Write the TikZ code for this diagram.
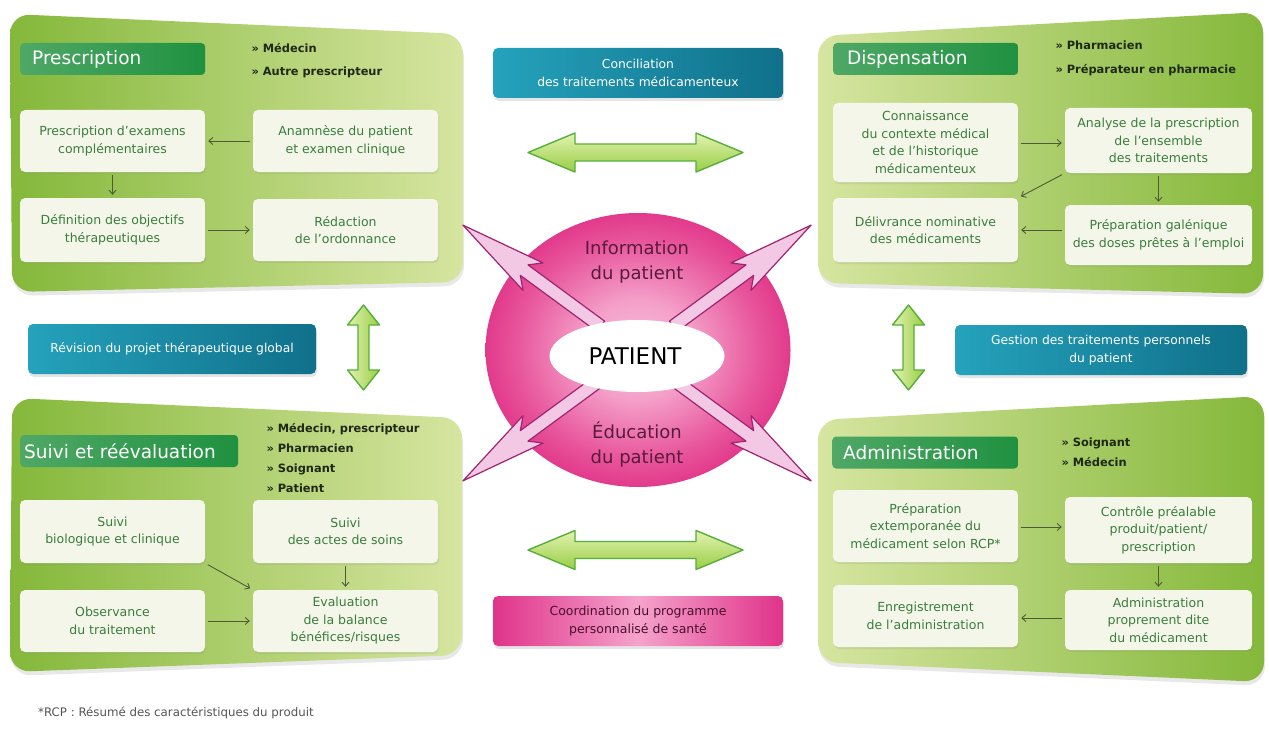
\documentclass[tikz,border=0pt]{standalone}
\usepackage{fontspec}
\setmainfont{DejaVu Sans}
\usetikzlibrary{arrows.meta,shadows,shapes.geometric}
\definecolor{pdark}{HTML}{84B83A}
\definecolor{plight}{HTML}{D6E5A0}
\definecolor{hdark}{HTML}{1F9140}
\definecolor{hlight}{HTML}{4FA866}
\definecolor{boxfill}{HTML}{F4F6E9}
\definecolor{boxtext}{HTML}{3A7D3C}
\definecolor{flowc}{HTML}{4E5B36}
\definecolor{rolec}{HTML}{1E2814}
\definecolor{teall}{HTML}{25A2BC}
\definecolor{teald}{HTML}{10708A}
\definecolor{pkin}{HTML}{F8BCDA}
\definecolor{pklite}{HTML}{F4A0C9}
\definecolor{pkmid}{HTML}{E8559C}
\definecolor{pkout}{HTML}{DC1F7A}
\definecolor{pkarrfill}{HTML}{F3C8E4}
\definecolor{pkarrline}{HTML}{9E2470}
\definecolor{pktext}{HTML}{5A1A3C}
\definecolor{gaout}{HTML}{55AF3A}
\definecolor{gatop}{HTML}{E3F2B2}
\definecolor{gabot}{HTML}{98CE44}
\definecolor{coordin}{HTML}{F5A3CB}
\definecolor{coordout}{HTML}{E0338A}
\definecolor{coordtext}{HTML}{4A0F2E}
\definecolor{notec}{HTML}{555555}
\pgfdeclareradialshading{pinkball}{\pgfpoint{0bp}{0bp}}{color(0bp)=(pkin); color(9bp)=(pklite); color(20bp)=(pkmid); color(30bp)=(pkout); color(50bp)=(pkout)}
\newcommand{\pinkarrow}[1]{\path[pinkarr, shift={(637,353)}, rotate=#1] (45,-6.5) -- (140,-6.5) -- (129,-17) -- (216,0) -- (129,17) -- (140,6.5) -- (45,6.5) -- cycle;}
\tikzset{
  panelL/.style={rounded corners=20pt, left color=pdark, right color=plight,
    drop shadow={opacity=0.18, shadow xshift=1pt, shadow yshift=-4pt}},
  panelR/.style={rounded corners=20pt, left color=plight, right color=pdark,
    drop shadow={opacity=0.18, shadow xshift=1pt, shadow yshift=-4pt}},
  hdr/.style={rounded corners=4pt, left color=hlight, right color=hdark, text=white,
    font=\fontsize{18.5}{20}\selectfont, anchor=west, minimum height=32pt, align=left,
    inner ysep=0pt},
  box/.style={rounded corners=5pt, fill=boxfill, text=boxtext,
    font=\fontsize{12.5}{17.5}\selectfont, align=center, minimum width=185pt,
    inner xsep=2pt, inner ysep=0pt,
    drop shadow={opacity=0.15, shadow xshift=1pt, shadow yshift=-2pt}},
  flow/.style={draw=flowc, line width=0.9pt, -{Straight Barb[length=4pt,width=7pt]},
    shorten >=3pt, shorten <=3pt},
  role/.style={font=\bfseries\fontsize{11.4}{#1}\selectfont, text=rolec, align=left, anchor=west},
  tealbox/.style={rounded corners=5pt, left color=teall, right color=teald, text=white,
    font=\fontsize{12.3}{18}\selectfont, align=center, inner sep=0pt,
    drop shadow={opacity=0.2, shadow xshift=1pt, shadow yshift=-3pt}},
  coordbox/.style={rounded corners=5pt, left color=coordout, right color=coordout, middle color=coordin,
    text=coordtext, font=\fontsize{12.5}{18}\selectfont, align=center, inner sep=0pt,
    drop shadow={opacity=0.2, shadow xshift=1pt, shadow yshift=-3pt}},
  garrow/.style={draw=gaout, line width=1.4pt, line join=round, top color=gatop, bottom color=gabot},
  gvarrow/.style={draw=gaout, line width=1.4pt, line join=round, left color=gatop, right color=gabot},
  pinkarr/.style={draw=pkarrline, line width=1.2pt, fill=pkarrfill, line join=round},
  balltext/.style={text=pktext, font=\fontsize{18}{25}\selectfont, align=center}
}
\begin{document}
\begin{tikzpicture}[x=1pt,y=-1pt]
\fill[white] (0,0) rectangle (1269,733);
\useasboundingbox (0,0) rectangle (1269,733);

% ---------- panels ----------
\path[panelL] (10,14) -- (463,34) -- (463,282) -- (12,292) -- cycle;
\path[panelR] (818,36) -- (1263,12) -- (1263,294) -- (818,283) -- cycle;
\path[panelL] (12,398) -- (462,418) -- (462,655) -- (10,672) -- cycle;
\path[panelR] (818,420) -- (1264,396) -- (1264,682) -- (818,662) -- cycle;

% ---------- headers ----------
\node[hdr, inner xsep=12pt, text width=161pt] (h1) at (20,59) {Prescription};
\node[hdr, inner xsep=14pt, text width=157pt] (h2) at (833,59) {Dispensation};
\node[hdr, inner xsep=4pt, text width=210pt] (h3) at (20,451) {Suivi et réévaluation};
\node[hdr, inner xsep=11pt, text width=164pt] (h4) at (832,452.5) {Administration};

% ---------- roles ----------
\node[role=23pt] (r1) at (248,60.5) {» Médecin\\» Autre prescripteur};
\node[role=24pt] (r2) at (1052,58) {» Pharmacien\\» Préparateur en pharmacie};
\node[role=20pt] (r3) at (263,458) {» Médecin, prescripteur\\» Pharmacien\\» Soignant\\» Patient};
\node[role=20pt] (r4) at (1058,452) {» Soignant\\» Médecin};

% ---------- Prescription ----------
\node[box, minimum height=62pt] (pe) at (112.5,141) {Prescription d'examens\\complémentaires};
\node[box, minimum height=62pt] (an) at (345.5,141) {Anamnèse du patient\\et examen clinique};
\node[box, minimum height=64pt] (de) at (112.5,230) {Définition des objectifs\\thérapeutiques};
\node[box, minimum height=62pt] (re) at (345.5,230) {Rédaction\\de l'ordonnance};
\draw[flow] (an) -- (pe);
\draw[flow] (pe) -- (de);
\draw[flow] (de) -- (re);

% ---------- Dispensation ----------
\node[box, minimum height=79pt] (co) at (925.5,142.5) {Connaissance\\du contexte médical\\et de l'historique\\médicamenteux};
\node[box, minimum width=187pt, minimum height=65pt] (ana) at (1158.5,140.5) {Analyse de la prescription\\de l'ensemble\\des traitements};
\node[box, minimum height=64pt] (dl) at (925.5,230) {Délivrance nominative\\des médicaments};
\node[box, minimum width=187pt, minimum height=60pt] (pg) at (1158.5,235) {Préparation galénique\\des doses prêtes à l'emploi};
\draw[flow] (co.east |- 0,143) -- (ana.west |- 0,143);
\draw[flow] (ana.south west) -- (dl.north east);
\draw[flow] (ana) -- (pg);
\draw[flow] (pg.west |- 0,230) -- (dl.east);

% ---------- Suivi ----------
\node[box, minimum height=63pt] (sb) at (112.5,531.5) {Suivi\\biologique et clinique};
\node[box, minimum height=63pt] (sa) at (345.5,531.5) {Suivi\\des actes de soins};
\node[box, minimum height=62pt] (ob) at (112.5,621) {Observance\\du traitement};
\node[box, minimum height=62pt] (ev) at (345.5,621) {Evaluation\\de la balance\\bénéfices/risques};
\draw[flow] (sb.south east) -- (ev.north west);
\draw[flow] (sa) -- (ev);
\draw[flow] (ob) -- (ev);

% ---------- Administration ----------
\node[box, minimum height=72pt] (pr) at (925.5,526) {Préparation\\extemporanée du\\médicament selon RCP*};
\node[box, minimum width=187pt, minimum height=66pt] (ct) at (1158.5,530) {Contrôle préalable\\produit/patient/\\prescription};
\node[box, minimum height=62pt] (en) at (925.5,616) {Enregistrement\\de l'administration};
\node[box, minimum width=187pt, minimum height=60pt] (ad) at (1158.5,620) {Administration\\proprement dite\\du médicament};
\draw[flow] (pr.east |- 0,527) -- (ct.west |- 0,527);
\draw[flow] (ct) -- (ad);
\draw[flow] (ad.west |- 0,618) -- (en.east |- 0,618);

% ---------- middle boxes ----------
\node[tealbox, minimum width=290pt, minimum height=50pt] (conc) at (638,73) {Conciliation\\des traitements médicamenteux};
\node[tealbox, minimum width=288pt, minimum height=50pt] (rev) at (172,349) {Révision du projet thérapeutique global};
\node[tealbox, minimum width=292pt, minimum height=50pt] (ges) at (1101,350) {Gestion des traitements personnels\\du patient};
\node[coordbox, minimum width=290pt, minimum height=50pt] (coo) at (638,621) {Coordination du programme\\personnalisé de santé};

% ---------- green double arrows ----------
\path[garrow, shift={(635.5,152.5)}] (-107.5,0) -- (-60.5,-19.5) -- (-60.5,-8.5) -- (60.5,-8.5) -- (60.5,-19.5) -- (107.5,0) -- (60.5,19.5) -- (60.5,8.5) -- (-60.5,8.5) -- (-60.5,19.5) -- cycle;
\path[garrow, shift={(635.5,550)}] (-107.5,0) -- (-60.5,-19.5) -- (-60.5,-8.5) -- (60.5,-8.5) -- (60.5,-19.5) -- (107.5,0) -- (60.5,19.5) -- (60.5,8.5) -- (-60.5,8.5) -- (-60.5,19.5) -- cycle;
\path[gvarrow, shift={(363.5,347.5)}] (0,-42.5) -- (16,-22.5) -- (5.5,-22.5) -- (5.5,22.5) -- (16,22.5) -- (0,42.5) -- (-16,22.5) -- (-5.5,22.5) -- (-5.5,-22.5) -- (-16,-22.5) -- cycle;
\path[gvarrow, shift={(908.5,347.5)}] (0,-42.5) -- (16,-22.5) -- (5.5,-22.5) -- (5.5,22.5) -- (16,22.5) -- (0,42.5) -- (-16,22.5) -- (-5.5,22.5) -- (-5.5,-22.5) -- (-16,-22.5) -- cycle;

% ---------- patient ball ----------
\node[ellipse, minimum width=305pt, minimum height=274pt, shading=pinkball, inner sep=0pt] (ball) at (638,350) {};
\pinkarrow{143.7}
\pinkarrow{36.3}
\pinkarrow{216.3}
\pinkarrow{-36.3}
\node[ellipse, fill=white, minimum width=175pt, minimum height=72pt, inner sep=0pt] (pat) at (637,356) {};
\node[font=\fontsize{23}{25}\selectfont, text=black] (patt) at (635,356) {PATIENT};
\node[balltext] (info) at (637,262.5) {Information\\du patient};
\node[balltext] (educ) at (637,445) {Éducation\\du patient};

% ---------- footnote ----------
\node[anchor=west, text=notec, font=\fontsize{11.8}{13}\selectfont, inner sep=0pt] (note) at (38,713) {*RCP : Résumé des caractéristiques du produit};
\end{tikzpicture}
\end{document}
